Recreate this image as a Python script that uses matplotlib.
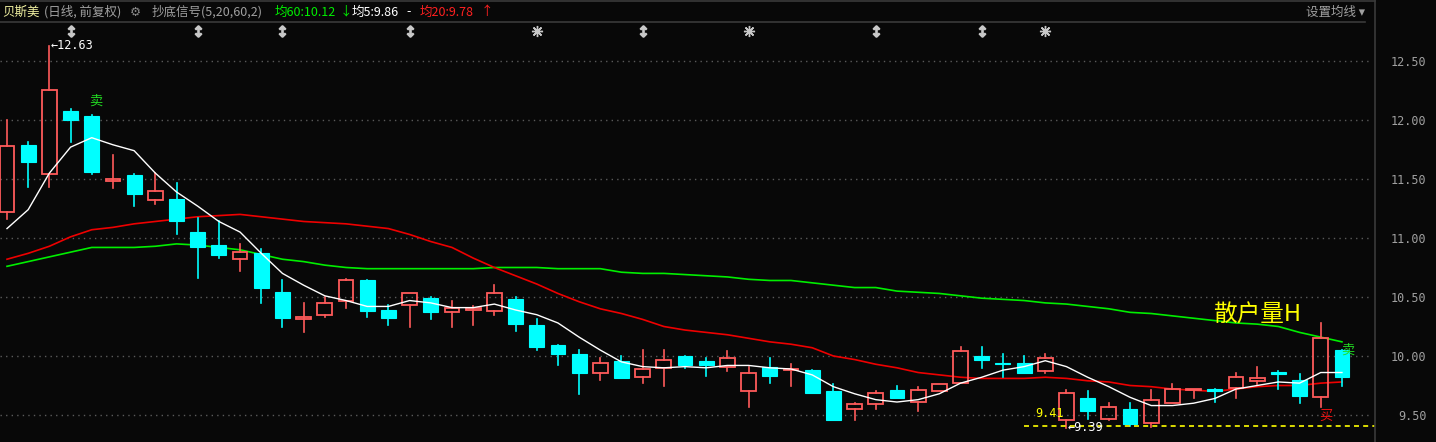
import matplotlib

matplotlib.use("Agg")
import matplotlib.pyplot as plt
import matplotlib.transforms as mtransforms
from matplotlib.lines import Line2D
from matplotlib.patches import Rectangle

plt.rcParams["font.family"] = ["Noto Sans CJK SC", "DejaVu Sans"]

# daily bars, oldest first
opens = [11.22, 11.79, 11.54, 12.08, 12.03, 11.48, 11.53, 11.32, 11.33, 11.05,
         10.94, 10.82, 10.87, 10.54, 10.31, 10.35, 10.47, 10.64, 10.39, 10.43,
         10.49, 10.37, 10.39, 10.38, 10.48, 10.26, 10.09, 10.02, 9.86, 9.96,
         9.82, 9.90, 10.00, 9.96, 9.91, 9.70, 9.91, 9.88, 9.88, 9.70,
         9.55, 9.59, 9.71, 9.61, 9.70, 9.77, 10.00, 9.94, 9.94, 9.87,
         9.46, 9.64, 9.47, 9.55, 9.43, 9.60, 9.71, 9.72, 9.73, 9.79,
         9.86, 9.80, 9.65, 10.05]
highs = [12.00, 11.81, 12.63, 12.09, 12.04, 11.70, 11.54, 11.55, 11.47, 11.17,
         11.14, 10.95, 10.91, 10.64, 10.45, 10.50, 10.65, 10.64, 10.43, 10.53,
         10.50, 10.47, 10.42, 10.60, 10.50, 10.31, 10.09, 10.05, 9.98, 10.00,
         10.05, 10.05, 10.00, 9.98, 10.04, 9.91, 9.98, 9.93, 9.88, 9.76,
         9.60, 9.70, 9.75, 9.74, 9.76, 10.08, 10.08, 10.02, 10.00, 10.02,
         9.71, 9.70, 9.60, 9.60, 9.71, 9.76, 9.72, 9.72, 9.86, 9.91,
         9.87, 9.85, 10.28, 10.05]
lows = [11.16, 11.43, 11.43, 11.81, 11.54, 11.42, 11.27, 11.29, 11.03, 10.66,
        10.83, 10.72, 10.45, 10.25, 10.20, 10.33, 10.41, 10.33, 10.26, 10.25,
        10.31, 10.25, 10.26, 10.35, 10.21, 10.05, 9.92, 9.68, 9.80, 9.81,
        9.77, 9.75, 9.90, 9.83, 9.87, 9.57, 9.77, 9.75, 9.69, 9.46,
        9.46, 9.55, 9.64, 9.53, 9.70, 9.77, 9.90, 9.82, 9.86, 9.86,
        9.39, 9.47, 9.46, 9.41, 9.40, 9.60, 9.64, 9.61, 9.64, 9.76,
        9.72, 9.60, 9.57, 9.75]
closes = [11.78, 11.64, 12.25, 12.00, 11.56, 11.50, 11.37, 11.40, 11.14, 10.92,
          10.86, 10.88, 10.58, 10.32, 10.33, 10.45, 10.64, 10.38, 10.32, 10.53,
          10.37, 10.41, 10.41, 10.53, 10.27, 10.08, 10.02, 9.86, 9.94, 9.81,
          9.89, 9.97, 9.92, 9.92, 9.98, 9.86, 9.83, 9.89, 9.69, 9.46,
          9.59, 9.69, 9.64, 9.71, 9.76, 10.04, 9.97, 9.93, 9.86, 9.98,
          9.69, 9.53, 9.57, 9.42, 9.63, 9.72, 9.72, 9.70, 9.82, 9.81,
          9.85, 9.66, 10.15, 9.82]

ma5 = [11.08, 11.24, 11.55, 11.77, 11.85, 11.79, 11.74, 11.55, 11.39, 11.27,
       11.14, 11.05, 10.87, 10.70, 10.60, 10.51, 10.47, 10.42, 10.42, 10.47,
       10.45, 10.41, 10.41, 10.44, 10.39, 10.35, 10.28, 10.16, 10.05, 9.95,
       9.91, 9.90, 9.91, 9.90, 9.92, 9.92, 9.90, 9.89, 9.84, 9.74,
       9.68, 9.63, 9.61, 9.63, 9.68, 9.77, 9.82, 9.88, 9.91, 9.96,
       9.91, 9.82, 9.74, 9.65, 9.58, 9.58, 9.60, 9.64, 9.72, 9.75,
       9.78, 9.77, 9.86, 9.86]
ma20 = [10.82, 10.87, 10.93, 11.01, 11.07, 11.09, 11.12, 11.14, 11.16, 11.18,
        11.19, 11.20, 11.18, 11.16, 11.14, 11.13, 11.12, 11.10, 11.08, 11.03,
        10.97, 10.92, 10.83, 10.75, 10.68, 10.61, 10.53, 10.46, 10.40, 10.36,
        10.31, 10.25, 10.22, 10.20, 10.18, 10.15, 10.12, 10.10, 10.07, 10.00,
        9.97, 9.93, 9.90, 9.86, 9.84, 9.82, 9.81, 9.81, 9.81, 9.82,
        9.81, 9.79, 9.78, 9.75, 9.74, 9.72, 9.71, 9.70, 9.72, 9.74,
        9.75, 9.75, 9.77, 9.78]
ma60 = [10.76, 10.80, 10.84, 10.88, 10.92, 10.92, 10.92, 10.93, 10.95, 10.94,
        10.92, 10.90, 10.86, 10.82, 10.80, 10.77, 10.75, 10.74, 10.74, 10.74,
        10.74, 10.74, 10.74, 10.75, 10.75, 10.75, 10.74, 10.74, 10.74, 10.71,
        10.70, 10.70, 10.69, 10.68, 10.67, 10.65, 10.64, 10.64, 10.62, 10.60,
        10.58, 10.58, 10.55, 10.54, 10.53, 10.51, 10.49, 10.48, 10.47, 10.45,
        10.44, 10.42, 10.40, 10.37, 10.36, 10.34, 10.32, 10.30, 10.28, 10.27,
        10.25, 10.20, 10.16, 10.12]

price_ticks = [9.50, 10.00, 10.50, 11.00, 11.50, 12.00, 12.50]
arrow_signal_idx = [3, 9, 13, 19, 30, 41, 46]
star_signal_idx = [25, 35, 49]
sell_idx = [4, 63]
buy_idx = [62]
peak_idx, peak_price = 2, 12.63
trough_idx, trough_price = 50, 9.39
bottom_level, bottom_start = 9.41, 48

W, H = 1436, 442
BG = "#080808"
UP = "#ff5a5a"
DOWN = "#00ffff"
GREY = "#a0a0a0"

fig = plt.figure(figsize=(W / 100, H / 100), dpi=100, facecolor=BG)
ax = fig.add_axes([0, 0, 1375 / W, 1 - 23 / H], facecolor=BG)
ax.set_xlim(-0.33, 64.56)
ax.set_ylim(9.2712, 12.822)

# grid
ax.hlines(price_ticks, -0.33, 64.4, colors="#5a5a5a", linewidth=1.0,
          linestyles=(0, (1, 3)), zorder=0)

# moving averages
xs = list(range(len(closes)))
ax.plot(xs, ma60, color="#00ee00", lw=1.2, zorder=2)
ax.plot(xs, ma20, color="#ee0000", lw=1.2, zorder=2)
ax.plot(xs, ma5, color="#ffffff", lw=1.0, zorder=5)

# candles
bw = 0.70
for i, (o, h, l, c) in enumerate(zip(opens, highs, lows, closes)):
    top, bot = max(o, c), min(o, c)
    if c >= o:
        ax.plot([i, i], [top, h], color=UP, lw=1.2, zorder=3)
        ax.plot([i, i], [l, bot], color=UP, lw=1.2, zorder=3)
        ax.add_patch(Rectangle((i - bw / 2, bot), bw, max(top - bot, 0.012),
                               facecolor="none", edgecolor=UP, lw=1.3, zorder=3))
    else:
        ax.plot([i, i], [l, h], color=DOWN, lw=1.2, zorder=3)
        ax.add_patch(Rectangle((i - bw / 2, bot), bw, max(top - bot, 0.012),
                               facecolor=DOWN, edgecolor=DOWN, lw=0.8, zorder=4))

# bottom-fishing level
ax.hlines(bottom_level, bottom_start, 64.56, colors="#ffff00", lw=1.2,
          linestyles=(0, (3, 2.5)), zorder=6)
ax.annotate(f"{bottom_level:.2f}", xy=(bottom_start, bottom_level), xytext=(8, 4),
            textcoords="offset points", color="#ffff00", fontsize=8.5,
            family="DejaVu Sans Mono", va="bottom", ha="left")

# high / low marks
ax.annotate(f"←{peak_price:.2f}", xy=(peak_idx, peak_price), xytext=(1, 0),
            textcoords="offset points", color="white", fontsize=8.5,
            family="DejaVu Sans Mono", va="center", ha="left")
ax.annotate(f"←{trough_price:.2f}", xy=(trough_idx, trough_price), xytext=(1, 0),
            textcoords="offset points", color="white", fontsize=8.5,
            family="DejaVu Sans Mono", va="center", ha="left", zorder=7)

# buy / sell flags
for i in sell_idx:
    dy = 10 if i == sell_idx[0] else 0
    dx = 3 if i == sell_idx[0] else 4
    ax.annotate("卖", xy=(i, highs[i]), xytext=(dx, dy), textcoords="offset points",
                color="#22dd22", fontsize=9.5, ha="center", va="center", zorder=8)
for i in buy_idx:
    ax.annotate("买", xy=(i, lows[i]), xytext=(4, -7), textcoords="offset points",
                color="#ee1111", fontsize=9.5, ha="center", va="center", zorder=8)

ax.text(56.9, 10.347, "散户量H", color="#ffff00", fontsize=17, ha="left",
        va="center", family=["Noto Sans CJK SC", "DejaVu Serif"], zorder=8)

# signal markers along the top
trans = mtransforms.blended_transform_factory(ax.transData, ax.transAxes)
ax.plot(arrow_signal_idx, [0.981] * len(arrow_signal_idx), transform=trans,
        linestyle="none", marker="$\\updownarrow$", ms=8, color="#c8c8c8")
ax.plot(star_signal_idx, [0.981] * len(star_signal_idx), transform=trans,
        linestyle="none", marker=(8, 2, 0), ms=8, color="#c8c8c8")

# axes cosmetics
for s in ax.spines.values():
    s.set_visible(False)
ax.set_xticks([])
ax.yaxis.tick_right()
ax.set_yticks(price_ticks)
ax.set_yticklabels([f"{v:.2f}" for v in price_ticks], family="DejaVu Sans Mono")
ax.tick_params(axis="y", length=0, pad=37, colors=GREY, labelsize=8.5)
for lbl in ax.get_yticklabels():
    lbl.set_horizontalalignment("right")

# frame lines
fig.add_artist(Line2D([1375 / W] * 2, [0, 1], color="#3a3a3a", lw=1.2,
                      transform=fig.transFigure))
fig.add_artist(Line2D([0, 1365 / W], [1 - 22 / H] * 2, color="#3a3a3a", lw=1.2,
                      transform=fig.transFigure))
fig.add_artist(Line2D([0, 1375 / W], [1 - 0.6 / H] * 2, color="#3a3a3a", lw=1.2,
                      transform=fig.transFigure))

# header
hy = 1 - 12 / H
header = [
    (2, "贝斯美", "#f0f0a0"),
    (44, "(日线, 前复权)", GREY),
    (130, "⚙", "#888888"),
    (152, "抄底信号(5,20,60,2)", GREY),
    (275, "均60:10.12", "#00ee00"),
    (340, "↓", "#00ee00"),
    (352, "均5:9.86", "#ffffff"),
    (406, "-", "#ffffff"),
    (420, "均20:9.78", "#ff2020"),
    (481, "↑", "#ff2020"),
    (1306, "设置均线 ▾", GREY),
]
for x, s, col in header:
    fig.text(x / W, hy, s, color=col, fontsize=9, va="center", ha="left")

fig.savefig("out.png", dpi=100, facecolor=BG)
